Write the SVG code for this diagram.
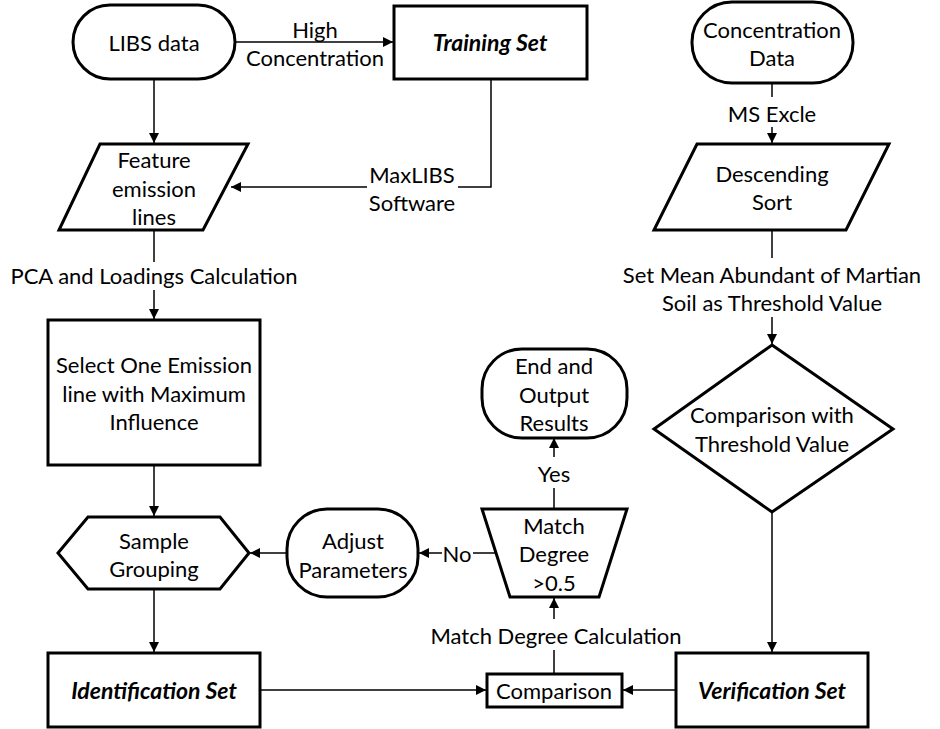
<svg xmlns="http://www.w3.org/2000/svg" width="940" height="729" viewBox="0 0 940 729">
<style>
.n{fill:#fff;stroke:#000;stroke-width:3;stroke-linejoin:miter}
.t{font-family:Lato,"Liberation Sans",sans-serif;font-size:22px;text-anchor:middle;dominant-baseline:central;fill:#000}
.b{font-weight:bold;font-style:italic;font-size:23px}
.c{fill:none;stroke:#000;stroke-width:1.5}
</style>
<defs>
<marker id="ah" viewBox="0 0 10 10" refX="10" refY="5" markerWidth="10" markerHeight="10" markerUnits="userSpaceOnUse" orient="auto">
<path d="M0,0 L10,5 L0,10 z" fill="#000"/>
</marker>
</defs>
<rect width="940" height="729" fill="#fff"/>
<g id="connectors">
<path class="c" d="M235,42 H393" marker-end="url(#ah)"/>
<path class="c" d="M154,79 V143" marker-end="url(#ah)"/>
<path class="c" d="M491,79 V187 H458"/>
<path class="c" d="M367,187 H231" marker-end="url(#ah)"/>
<path class="c" d="M154,230 V262"/>
<path class="c" d="M154,290 V319" marker-end="url(#ah)"/>
<path class="c" d="M154,465 V516" marker-end="url(#ah)"/>
<path class="c" d="M154,589 V652" marker-end="url(#ah)"/>
<path class="c" d="M287,553 H250" marker-end="url(#ah)"/>
<path class="c" d="M496,553 H473"/>
<path class="c" d="M442,553 H419" marker-end="url(#ah)"/>
<path class="c" d="M554,509 V488"/>
<path class="c" d="M554,457 V438" marker-end="url(#ah)"/>
<path class="c" d="M554,674 V650"/>
<path class="c" d="M554,619 V598" marker-end="url(#ah)"/>
<path class="c" d="M260,690 H486" marker-end="url(#ah)"/>
<path class="c" d="M676,690 H623" marker-end="url(#ah)"/>
<path class="c" d="M772,83 V97"/>
<path class="c" d="M772,127 V143" marker-end="url(#ah)"/>
<path class="c" d="M772,230 V258"/>
<path class="c" d="M772,317 V344" marker-end="url(#ah)"/>
<path class="c" d="M772,512 V652" marker-end="url(#ah)"/>
<text class="t" x="315" y="29">High</text>
<text class="t" x="315" y="57">Concentration</text>
<text class="t" x="412" y="174">MaxLIBS</text>
<text class="t" x="412" y="202">Software</text>
<text class="t" x="154" y="275">PCA and Loadings Calculation</text>
<text class="t" x="457" y="553">No</text>
<text class="t" x="554" y="473">Yes</text>
<text class="t" x="556" y="635">Match Degree Calculation</text>
<text class="t" x="772" y="113">MS Excle</text>
<text class="t" x="772" y="274">Set Mean Abundant of Martian</text>
<text class="t" x="772" y="302">Soil as Threshold Value</text>
</g>
<g id="libs-data">
<rect class="n" x="73" y="5" width="162" height="74" rx="37"/>
<text class="t" x="154" y="42">LIBS data</text>
</g>
<g id="training-set">
<rect class="n" x="394" y="6" width="193" height="73"/>
<text class="t b" x="490" y="42">Training Set</text>
</g>
<g id="concentration-data">
<rect class="n" x="692" y="2" width="161" height="81" rx="40"/>
<text class="t" x="772" y="29">Concentration</text>
<text class="t" x="772" y="57">Data</text>
</g>
<g id="feature-emission">
<polygon class="n" points="100,144 248,144 203,230 59,230"/>
<text class="t" x="154" y="159">Feature</text>
<text class="t" x="154" y="188">emission</text>
<text class="t" x="154" y="216">lines</text>
</g>
<g id="descending-sort">
<polygon class="n" points="697,144 889,144 846,230 654,230"/>
<text class="t" x="772" y="173">Descending</text>
<text class="t" x="772" y="201">Sort</text>
</g>
<g id="select-line">
<rect class="n" x="48" y="320" width="212" height="145"/>
<text class="t" x="154" y="364">Select One Emission</text>
<text class="t" x="154" y="393">line with Maximum</text>
<text class="t" x="154" y="421">Influence</text>
</g>
<g id="end-output">
<rect class="n" x="482" y="349" width="145" height="89" rx="40"/>
<text class="t" x="554" y="365">End and</text>
<text class="t" x="554" y="394">Output</text>
<text class="t" x="554" y="422">Results</text>
</g>
<g id="comparison-threshold">
<polygon class="n" points="772,345 893,429 772,512 654,429"/>
<text class="t" x="772" y="414">Comparison with</text>
<text class="t" x="772" y="443">Threshold Value</text>
</g>
<g id="sample-grouping">
<polygon class="n" points="58,553 88,517 220,517 249,553 220,589 88,589"/>
<text class="t" x="154" y="540">Sample</text>
<text class="t" x="154" y="568">Grouping</text>
</g>
<g id="adjust-parameters">
<rect class="n" x="287" y="509" width="131" height="88" rx="40"/>
<text class="t" x="353" y="540">Adjust</text>
<text class="t" x="353" y="569">Parameters</text>
</g>
<g id="match-degree">
<polygon class="n" points="482,509 627,509 599,597 510,597"/>
<text class="t" x="554" y="525">Match</text>
<text class="t" x="554" y="553">Degree</text>
<text class="t" x="554" y="582">&gt;0.5</text>
</g>
<g id="identification-set">
<rect class="n" x="48" y="653" width="212" height="74"/>
<text class="t b" x="154" y="690">Identification Set</text>
</g>
<g id="comparison">
<rect class="n" x="487" y="674" width="135" height="33"/>
<text class="t" x="554" y="690">Comparison</text>
</g>
<g id="verification-set">
<rect class="n" x="676" y="653" width="192" height="74"/>
<text class="t b" x="772" y="690">Verification Set</text>
</g>
</svg>
